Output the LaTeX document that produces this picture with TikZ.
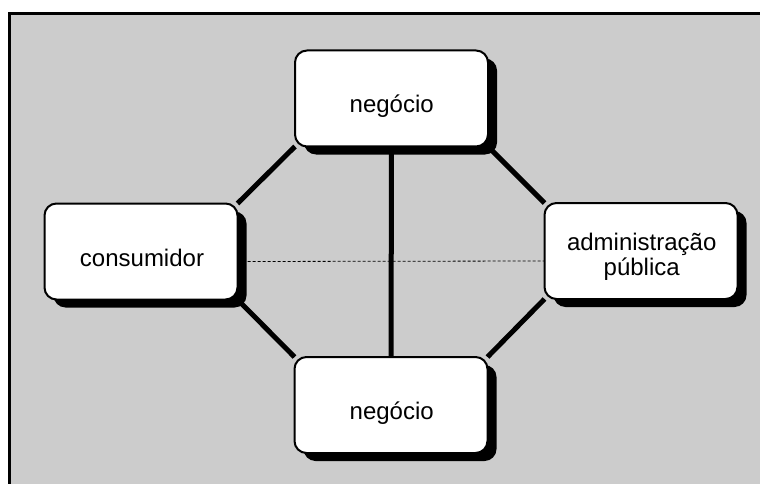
\documentclass[tikz,border=0pt]{standalone}
\usepackage{fontspec}
\setmainfont{Liberation Sans}
\usetikzlibrary{shadows}
\definecolor{panelgray}{HTML}{CCCCCC}
\pgfdeclarelayer{back}
\pgfdeclarelayer{links}
\pgfsetlayers{back,links,main}
\begin{document}
\begin{tikzpicture}[x=1pt,y=-1pt,
  box/.style={draw=black, line width=2pt, fill=white, rounded corners=12pt,
    inner sep=0pt, outer sep=0pt, minimum width=193pt, minimum height=96pt,
    drop shadow={shadow xshift=9pt, shadow yshift=-8pt, opacity=1, fill=black}},
  lbl/.style={font=\fontsize{24}{25}\selectfont, inner sep=0pt, align=center},
  link/.style={line width=5pt, draw=black},
  thinlink/.style={line width=0.8pt, draw=black, dash pattern=on 3pt off 2pt}]
\useasboundingbox (0,0) rectangle (760,484);

% panel
\begin{pgfonlayer}{back}
  \fill[white] (0,0) rectangle (760,484);
  \fill[panelgray] (9.5,13.5) rectangle (760,484);
  \draw[line width=3pt] (9.5,484) -- (9.5,13.5) -- (760,13.5);
\end{pgfonlayer}

% boxes
\node[box] (top) at (391.5,98.5) {};
\node[box] (cons) at (141,251.5) {};
\node[box] (adm) at (641,251) {};
\node[box] (bot) at (391,405) {};

% labels
\node[lbl, anchor=base] (ttop) at (391.7,112.7) {negócio};
\node[lbl, anchor=base] (tcons) at (142,266) {consumidor};
\node[lbl] (tadm) at (641.7,257) {administração\\pública};
\node[lbl, anchor=base] (tbot) at (391.7,419.3) {negócio};

% connectors
\begin{pgfonlayer}{links}
  \draw[link] (top.south west) -- (cons.north east);
  \draw[link] (top.south east) -- (adm.north west);
  \draw[link] (cons.south east) -- (bot.north west);
  \draw[link] (adm.south west) -- (bot.north east);
  \draw[link] (top.south) -- (bot.north);
  \draw[thinlink] ([yshift=-10pt]cons.east) -- ([yshift=-10pt]adm.west);
\end{pgfonlayer}
\end{tikzpicture}
\end{document}
